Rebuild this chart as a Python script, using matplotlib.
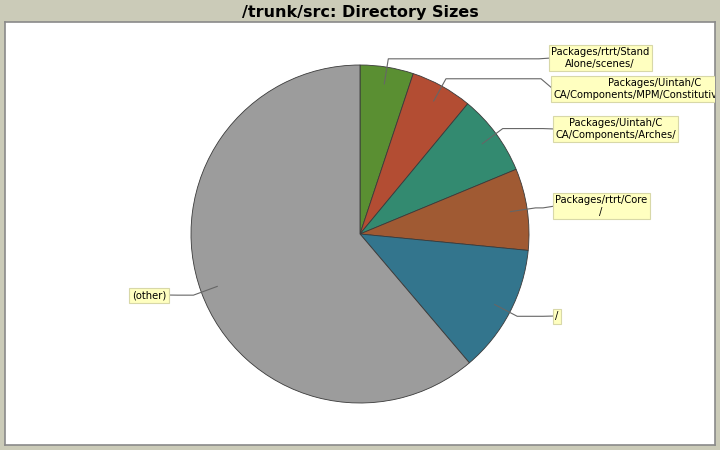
import matplotlib
matplotlib.use("Agg")
import matplotlib.pyplot as plt
import numpy as np

# slice shares in percent, clockwise from 12 o'clock
labels = ["Packages/rtrt/Stand\nAlone/scenes/",
          "Packages/Uintah/C\nCA/Components/MPM/ConstitutiveModel/",
          "Packages/Uintah/C\nCA/Components/Arches/",
          "Packages/rtrt/Core\n/",
          "/",
          "(other)"]
sizes = [5.1, 5.9, 7.75, 7.8, 12.25, 61.2]
colors = ["#5a8f32", "#b34d33", "#338a70", "#a05a33", "#33758d", "#9c9c9c"]

# label box anchor (left edge x, centre y) in pixels, top-left origin
box_pos = [(551, 58), (553, 89), (555, 129), (555, 206), (555, 316), (166, 295)]

W, H = 720, 450
fig = plt.figure(figsize=(7.2, 4.5), dpi=100)
fig.patch.set_facecolor("#cbcbb8")

# plot area in pixels: x 5..715, y 22..445
x0, x1, y0, y1 = 5, 715, 22, 445
ax = fig.add_axes([x0 / W, 1 - y1 / H, (x1 - x0) / W, (y1 - y0) / H])
ax.set_facecolor("white")

cx, cy, r = 360, H - 234, 169
wedges, _ = ax.pie(sizes, colors=colors, startangle=90, counterclock=False,
                   center=(cx, cy), radius=r, frame=True,
                   wedgeprops=dict(edgecolor="#3a3a3a", linewidth=0.6))
ax.set_xlim(x0, x1)
ax.set_ylim(H - y1, H - y0)
ax.set_aspect("auto")
ax.set_xticks([])
ax.set_yticks([])
for s in ax.spines.values():
    s.set_color("#8a8a8a")
    s.set_linewidth(1.2)

for w, lab, (bx, by) in zip(wedges, labels, box_pos):
    mid = np.deg2rad((w.theta1 + w.theta2) / 2)
    px1, py1 = cx + 0.9 * r * np.cos(mid), cy + 0.9 * r * np.sin(mid)
    px2, py2 = cx + 1.05 * r * np.cos(mid), cy + 1.05 * r * np.sin(mid)
    by = H - by
    if np.cos(mid) >= 0:
        ha = "left"
        xs = [px1, px2, bx - 12, bx]
    else:
        ha = "right"
        xs = [px1, px2, bx + 12, bx]
    ys = [py1, py2, py2, by]
    ax.plot(xs, ys, color="#666666", linewidth=0.8, zorder=3)
    ax.text(bx, by, lab, ha=ha, va="center", multialignment="center",
            fontsize=7.2, color="black", zorder=4, clip_on=True,
            bbox=dict(boxstyle="square,pad=0.25", facecolor="#ffffc0",
                      edgecolor="#d8d8a8", linewidth=0.8))

fig.text(0.5, 1 - 12 / H, "/trunk/src: Directory Sizes", ha="center", va="center",
         fontsize=11.5, fontweight="bold", color="black")

fig.savefig("out.png", dpi=100, facecolor=fig.get_facecolor())
